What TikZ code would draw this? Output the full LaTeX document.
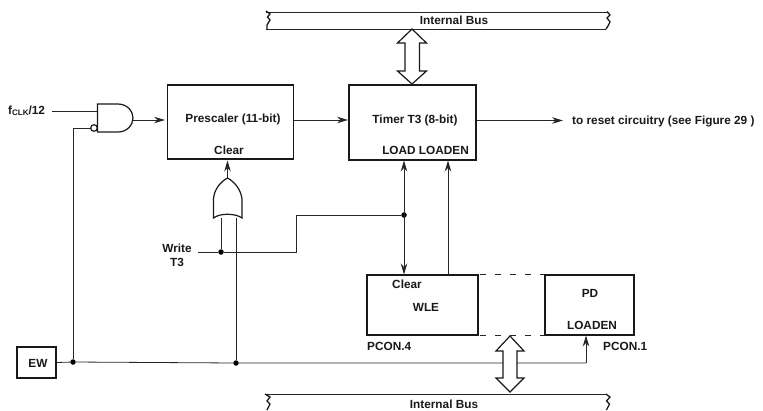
\documentclass[tikz,border=0pt]{standalone}
\usepackage{fontspec}
\setmainfont{Liberation Sans}[BoldFont={Liberation Sans Bold}]
\usetikzlibrary{arrows.meta}
\tikzset{
 x=1pt,y=-1pt,
 every node/.style={font=\fontsize{11.8}{14}\selectfont\bfseries,inner sep=0pt,text=black!90},
 blockbox/.style={draw=black!90,line width=1.5pt,fill=white,rectangle,inner sep=0pt},
 wire/.style={draw=black!85,line width=.8pt},
 arr/.style={wire,-{Stealth[length=11pt,width=6.5pt]}},
 arrb/.style={wire,{Stealth[length=11pt,width=6.5pt]}-{Stealth[length=11pt,width=6.5pt]}},
 junction/.style={circle,fill=black,inner sep=0pt,minimum size=5.5pt},
 gate/.style={draw=black!90,line width=1.2pt,fill=white,line join=miter},
 busline/.style={draw=black!85,line width=1pt},
 squiggle/.style={draw=black!90,line width=1.3pt},
 bigarrow/.style={draw=black!90,line width=1.2pt,fill=white,line join=miter},
}
\begin{document}
\begin{tikzpicture}
\useasboundingbox (0,0) rectangle (763,410);
\node[blockbox,minimum width=126pt,minimum height=74pt] (pre) at (230.5,122) {};
\node[blockbox,minimum width=127pt,minimum height=75pt] (tim) at (412.5,122.5) {};
\node[blockbox,minimum width=111pt,minimum height=60pt] (wle) at (422.5,305) {};
\node[blockbox,minimum width=89pt,minimum height=60pt] (pd) at (589.5,305) {};
\node[blockbox,minimum width=39pt,minimum height=31pt] (ew) at (36.5,362.5) {};
% texts
\node (tpre) at (233,119) {Prescaler (11-bit)};
\node (tclr) at (229,150) {Clear};
\node (ttim) at (415,120) {Timer T3 (8-bit)};
\node[anchor=east] (tload) at (469,150) {LOAD LOADEN};
\node (tcl2) at (407,284) {Clear};
\node (twle) at (426,307) {WLE};
\node (tpd) at (590,293) {PD};
\node (tlen) at (592,325) {LOADEN};
\node[anchor=west] (tp4) at (367,346.5) {PCON.4};
\node[anchor=west] (tp1) at (603,346.5) {PCON.1};
\node (tew) at (38,363) {EW};
\node (twr) at (177,248) {Write};
\node (tt3) at (177,262) {T3};
\node[anchor=west] (tclk) at (8,111) {f\raisebox{-1.5pt}{\fontsize{8}{8}\selectfont CLK}/12};
\node[anchor=west] (trst) at (572,121) {to reset circuitry (see Figure 29 )};
\node (tb1) at (454,20) {Internal Bus};
\node (tb2) at (444,404) {Internal Bus};
% buses
\draw[busline] (266,12) -- (607,12);
\draw[busline] (266,29) -- (606,29);
\draw[squiggle] (607,11.5) -- (610,15) -- (607,18) -- (610,22) -- (608,26) -- (606,29);
\draw[squiggle] (266,11) -- (270,14) -- (267.5,17) -- (270,20) -- (267,25) -- (267,29);
\draw[busline] (266,394) -- (606,394);
\draw[squiggle] (265,394) -- (270,397) -- (267,401) -- (270,404) -- (267,410);
\draw[squiggle] (606,394) -- (610,397) -- (606.5,401) -- (609.5,404) -- (606.5,410);
\coordinate (andIn) at (97,111);
\coordinate (andB) at (90.5,128);
\coordinate (andOut) at (133,120);
\coordinate (orOut) at (227.5,178);
\coordinate (orL) at (221,218);
\coordinate (orR) at (236,218);
\node[junction] (j1) at (73,362) {};
\node[junction] (j2) at (236,363) {};
\node[junction] (j3) at (221,252) {};
\node[junction] (j4) at (404,215) {};
\coordinate (wr) at (198,252);
\coordinate (clk) at (52,111);
\coordinate (rst) at (563,120.5);
\coordinate (ewend) at (586,363);
% wires
\draw[wire] (clk) -- (andIn);
\draw[wire] (andB) -- (73,128) -- (j1);
\draw[arr] (andOut) -- (165,120);
\draw[arr] (pre.east |- 0,120) -- (348,120);
\draw[arr] (tim.east |- 0,120.5) -- (rst);
\draw[arr] (orOut) -- (227.5,160.5);
\draw[wire] (orL) -- (j3);
\draw[wire] (orR) -- (j2);
\draw[wire] (wr) -- (j3) -- (296,252) -- (296,215) -- (j4);
\draw[arrb] (404,160.5) -- (404,274.5);
\draw[arr] (448,275) -- (448,160.5);
\draw[wire] (ew.east) -- (j1) -- (j2) -- (ewend);
\draw[arr] (ewend) -- (586,335.5);
\draw[wire,dash pattern=on 6pt off 9pt] (wle.north east) ++(1,0) -- (pd.north west);
\draw[wire,dash pattern=on 6pt off 9pt] (wle.south east) ++(1,0) -- (pd.south west);
% gates
\draw[gate] (97.5,104) -- (118,104) .. controls (127,104) and (133,111) .. (133,118) .. controls (133,125) and (127,132) .. (118,132) -- (97.5,132) -- cycle;
\draw[gate] (94,128) circle[radius=3.3];
\draw[gate] (213.5,218) .. controls (220,213) and (235,213) .. (242,218) -- (242,199) .. controls (241,190) and (235,182) .. (227.5,178) .. controls (220,182) and (214,190) .. (213.5,199) -- cycle;
% double arrows
\draw[bigarrow] (412,29) -- (426.5,43) -- (419.5,43) -- (419.5,71) -- (426.5,71) -- (412,84) -- (397.5,71) -- (405,71) -- (405,43) -- (397.5,43) -- cycle;
\draw[bigarrow] (510,336) -- (524,351) -- (517,351) -- (517,378) -- (524,378) -- (510,392) -- (496,378) -- (503,378) -- (503,351) -- (496,351) -- cycle;
\end{tikzpicture}
\end{document}
